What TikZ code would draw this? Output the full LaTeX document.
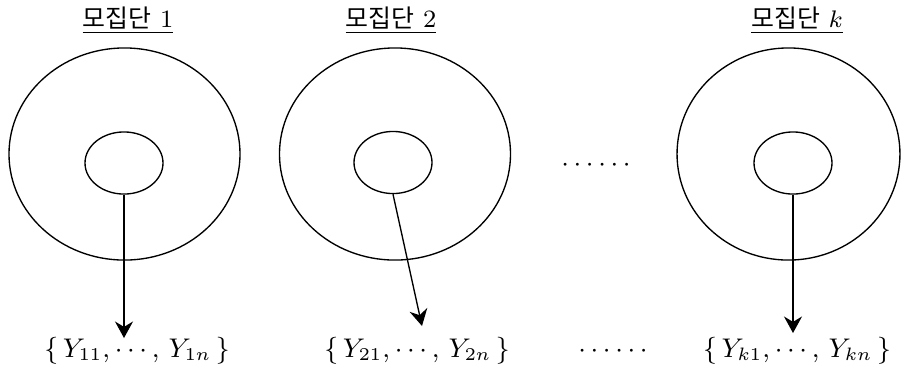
\documentclass[tikz,border=0pt]{standalone}
\usepackage{fontspec}
\newfontfamily\kr{Noto Sans CJK KR}
\usetikzlibrary{arrows.meta,shapes.geometric}

\begin{document}
\begin{tikzpicture}[x=0.3333pt, y=-0.3333pt, line width=0.45pt,
	pop/.style={draw, ellipse, inner sep=0pt, minimum width=77pt, minimum height=70.7pt},
	subpop/.style={draw, ellipse, inner sep=0pt, minimum width=26pt, minimum height=20.7pt},
	poptitle/.style={anchor=base, font=\fontsize{8.3}{10}\selectfont},
	samplab/.style={anchor=base, font=\fontsize{8.6}{11}\selectfont},
	pickarrow/.style={-{Stealth[length=5.5pt, width=6pt, inset=1.8pt]}}]
	\useasboundingbox (0,0) rectangle (901,369);
	% populations
	\node[poptitle] (t1) at (128,27) {\underline{{\kr 모집단} 1}};
	\node[poptitle] (t2) at (391,27) {\underline{{\kr 모집단} 2}};
	\node[poptitle] (tk) at (797,27) {\underline{{\kr 모집단} $k$}};
	\node[pop] (pop1) at (124.5,154) {};
	\node[pop] (pop2) at (395,154) {};
	\node[pop, minimum width=74.3pt] (popk) at (788.5,154) {};
	\node[subpop] (sub1) at (124,163) {};
	\node[subpop] (sub2) at (393,162.5) {};
	\node[subpop] (subk) at (793,163) {};
	\node[samplab] (dotsm) at (596,171) {$\cdots\cdots$};
	% samples
	\node[samplab] (lab1) at (137,357) {$\{\,Y_{11},\cdots,\,Y_{1n}\,\}$};
	\node[samplab] (lab2) at (417,357) {$\{\,Y_{21},\cdots,\,Y_{2n}\,\}$};
	\node[samplab] (dotsb) at (613,357) {$\cdots\cdots$};
	\node[samplab] (labk) at (797,357) {$\{\,Y_{k1},\cdots,\,Y_{kn}\,\}$};
	\coordinate (tip1) at (124,338);
	\coordinate (tip2) at (422,326);
	\coordinate (tipk) at (793,333);
	\draw[pickarrow] (sub1.south) -- (tip1);
	\draw[pickarrow] (sub2.south) -- (tip2);
	\draw[pickarrow] (subk.south) -- (tipk);
\end{tikzpicture}
\end{document}
